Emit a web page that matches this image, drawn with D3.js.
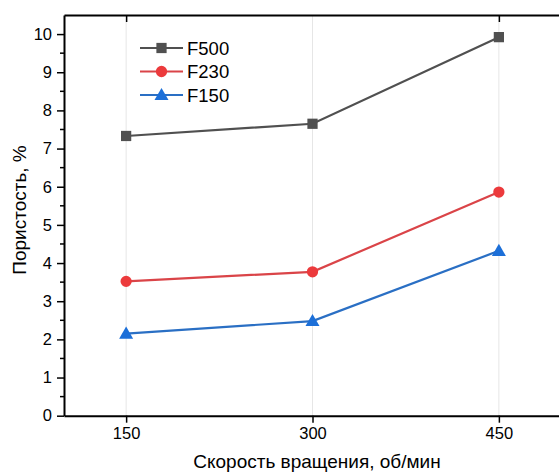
<!DOCTYPE html>
<html><head><meta charset="utf-8">
<script src="https://cdn.jsdelivr.net/npm/d3@7"></script>
<style>body{margin:0;background:#fff}svg{display:block}text{font-family:"Liberation Sans",Arial,sans-serif}</style>
</head><body><svg id="c" width="559" height="475"></svg>
<script>
const speeds = [150, 300, 450];
const seriesNames = ["F500", "F230", "F150"];
const f500 = [7.33, 7.65, 9.92];
const f230 = [3.52, 3.77, 5.86];
const f150 = [2.15, 2.48, 4.32];
const yTicks = [0,1,2,3,4,5,6,7,8,9,10];
const xLabel = "Скорость вращения, об/мин";
const yLabel = "Пористость, %";

const series = [
  {name: seriesNames[0], values: f500, color: "#505050", line: "#505050", shape: d3.symbolSquare},
  {name: seriesNames[1], values: f230, color: "#ec3a3c", line: "#da4448", shape: d3.symbolCircle},
  {name: seriesNames[2], values: f150, color: "#1c6fd8", line: "#2a6fc4", shape: d3.symbolTriangle}
];

const svg = d3.select("#c");
const x = d3.scaleLinear().domain([100, 500]).range([64, 561]);
const y = d3.scaleLinear().domain([0, 10.5]).range([415.7, 15]);

// grid lines
svg.append("g").selectAll("line").data(speeds).join("line")
  .attr("x1", d => x(d)).attr("x2", d => x(d)).attr("y1", y(10.5)).attr("y2", y(0))
  .attr("stroke", "#e6e6e6").attr("stroke-width", 1);

// minor ticks y
const minor = d3.range(0.5, 10.5, 1);
svg.append("g").selectAll("line").data(minor).join("line")
  .attr("x1", 60).attr("x2", 64).attr("y1", d => y(d)).attr("y2", d => y(d))
  .attr("stroke", "#000").attr("stroke-width", 1.5);

// axes
const yAxis = svg.append("g").attr("transform", "translate(64,0)")
  .call(d3.axisLeft(y).tickValues(yTicks).tickSizeInner(7).tickSizeOuter(0).tickPadding(5).tickFormat(d3.format("d")));
const xAxis = svg.append("g").attr("transform", `translate(0,${y(0)})`)
  .call(d3.axisBottom(x).tickValues(speeds).tickSizeInner(7).tickSizeOuter(0).tickPadding(5));
const topAxis = svg.append("g").attr("transform", `translate(0,${y(10.5)})`)
  .call(d3.axisBottom(x).tickValues(speeds).tickSizeInner(7).tickSizeOuter(0).tickFormat(""));
[yAxis, xAxis, topAxis].forEach(a => {
  a.select(".domain").attr("stroke", "#000").attr("stroke-width", 2);
  a.selectAll(".tick line").attr("stroke", "#000").attr("stroke-width", 1.5);
  a.selectAll(".tick text").attr("font-size", 16.5).attr("fill", "#000").attr("font-family", "Liberation Sans, Arial, sans-serif");
});
topAxis.selectAll(".tick").filter(d => d === 300).remove();

// lines and markers
const line = d3.line().x((d, i) => x(speeds[i])).y(d => y(d));
const symSize = s => s.shape === d3.symbolTriangle ? 85 : (s.shape === d3.symbolCircle ? 100 : 105);
series.forEach(s => {
  svg.append("path").datum(s.values).attr("d", line)
    .attr("fill", "none").attr("stroke", s.line).attr("stroke-width", 2.2);
  svg.append("g").selectAll("path").data(s.values).join("path")
    .attr("transform", (d, i) => `translate(${x(speeds[i])},${y(d) + (s.shape === d3.symbolTriangle ? 1 : 0)})`)
    .attr("d", d3.symbol().type(s.shape).size(symSize(s)))
    .attr("fill", s.color);
});

// legend
const legend = svg.append("g");
series.forEach((s, i) => {
  const ly = 48 + i * 23.5;
  legend.append("line").attr("x1", 140).attr("x2", 183).attr("y1", ly).attr("y2", ly)
    .attr("stroke", s.line).attr("stroke-width", 2.2);
  legend.append("path").attr("transform", `translate(161.5,${ly + (s.shape === d3.symbolTriangle ? 1 : 0)})`)
    .attr("d", d3.symbol().type(s.shape).size(symSize(s)))
    .attr("fill", s.color);
  legend.append("text").attr("x", 187).attr("y", ly).attr("dy", "0.36em")
    .attr("font-size", 18.5).attr("fill", "#000").text(s.name);
});

// axis labels
svg.append("text").attr("x", 317).attr("y", 468).attr("text-anchor", "middle")
  .attr("font-size", 19).attr("fill", "#000").text(xLabel);
svg.append("text").attr("transform", "translate(26,210) rotate(-90)").attr("text-anchor", "middle")
  .attr("font-size", 19).attr("fill", "#000").text(yLabel);
</script></body></html>
